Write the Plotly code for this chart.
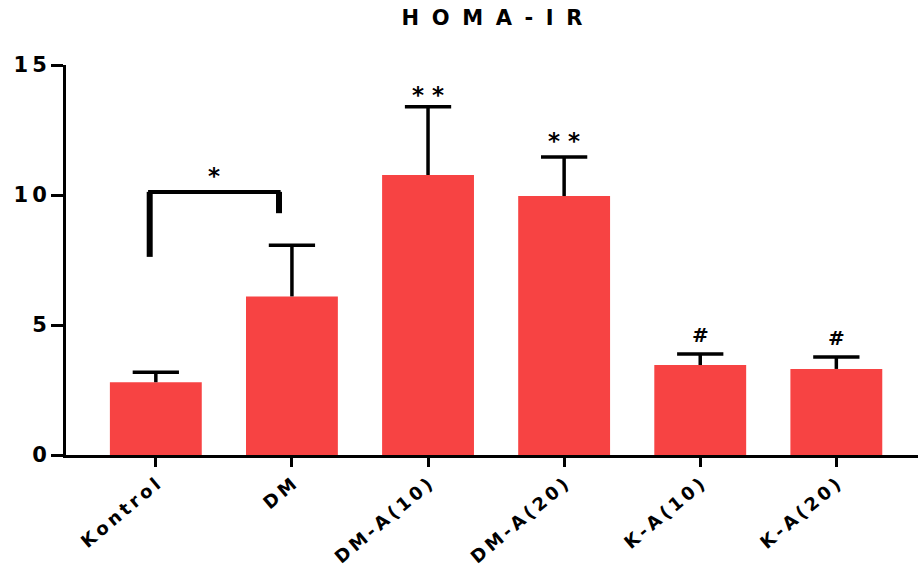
import plotly.graph_objects as go

categories = ["Kontrol", "DM", "DM-A(10)", "DM-A(20)", "K-A(10)", "K-A(20)"]
means = [2.80, 6.10, 10.77, 9.96, 3.46, 3.31]
sem = [0.38, 1.97, 2.62, 1.50, 0.42, 0.46]
marks = ["", "", "* *", "* *", "#", "#"]
mark_y = [0, 0, 13.85, 12.08, 4.62, 4.50]
yticks = [0, 5, 10, 15]

# significance bracket Kontrol vs DM
br_x = [-0.045, 0.905]
br_left_bottom, br_top, br_right_bottom = 7.62, 10.12, 9.30
br_label = "*"

FONT = "DejaVu Sans"
cap_half = 0.17

def spaced(s, sep):
    return sep.join(list(s))

fig = go.Figure()
fig.add_trace(go.Bar(
    x=list(range(len(categories))), y=means,
    width=0.675,
    marker=dict(color="#F74343", line=dict(width=0)),
))

# upward-only error bars (stem + top cap)
ex, ey = [], []
for i, (m, s) in enumerate(zip(means, sem)):
    ex += [i, i, None, i - cap_half, i + cap_half, None]
    ey += [m, m + s, None, m + s, m + s, None]
fig.add_trace(go.Scatter(x=ex, y=ey, mode="lines",
                         line=dict(color="black", width=3.5), hoverinfo="skip"))

for i, (m, yy) in enumerate(zip(marks, mark_y)):
    if m:
        fig.add_annotation(x=i, y=yy, text="<b>" + m + "</b>", showarrow=False,
                           font=dict(family=FONT, size=23 if "*" in m else 20, color="black"),
                           yanchor="middle")

# bracket
fig.add_shape(type="line", x0=br_x[0], x1=br_x[0], y0=br_left_bottom, y1=br_top,
              xref="x", yref="y", line=dict(color="black", width=6))
fig.add_shape(type="line", x0=br_x[1], x1=br_x[1], y0=br_right_bottom, y1=br_top,
              xref="x", yref="y", line=dict(color="black", width=6))
fig.add_shape(type="line", x0=br_x[0]-0.012, x1=br_x[1]+0.012, y0=br_top, y1=br_top,
              xref="x", yref="y", line=dict(color="black", width=4))
fig.add_annotation(x=(br_x[0]+br_x[1])/2, y=br_top+0.6, text="<b>" + br_label + "</b>",
                   showarrow=False, font=dict(family=FONT, size=23, color="black"),
                   yanchor="middle")

fig.update_layout(
    width=918, height=567,
    margin=dict(l=66, r=0, t=65, b=112),
    plot_bgcolor="white", paper_bgcolor="white",
    showlegend=False,
    title=dict(text="<b>" + spaced("HOMA-IR", "\u2002\u200a") + "</b>",
               x=0.5, xref="paper", xanchor="center",
               y=0.968, yanchor="middle",
               font=dict(family=FONT, size=21, color="black")),
    font=dict(family=FONT, color="black"),
)
fig.update_xaxes(
    range=[-0.66, 5.6], automargin=False,
    tickmode="array", tickvals=list(range(len(categories))),
    ticktext=["<b>" + spaced(c, "\u2009") + "</b>" for c in categories],
    tickangle=-40, ticks="outside", ticklen=9, tickwidth=3, tickcolor="black",
    showline=True, linecolor="black", linewidth=3, showgrid=False, zeroline=False,
    tickfont=dict(family=FONT, size=18, color="black"),
)
fig.update_yaxes(
    range=[0, 15], automargin=False,
    tickmode="array", tickvals=yticks,
    ticktext=["<b>" + spaced(str(v), "\u2009") + "</b>" for v in yticks],
    ticks="outside", ticklen=12, tickwidth=3, tickcolor="black",
    showline=True, linecolor="black", linewidth=3, showgrid=False, zeroline=False,
    tickfont=dict(family=FONT, size=21, color="black"),
)

fig.write_html("out.html")
